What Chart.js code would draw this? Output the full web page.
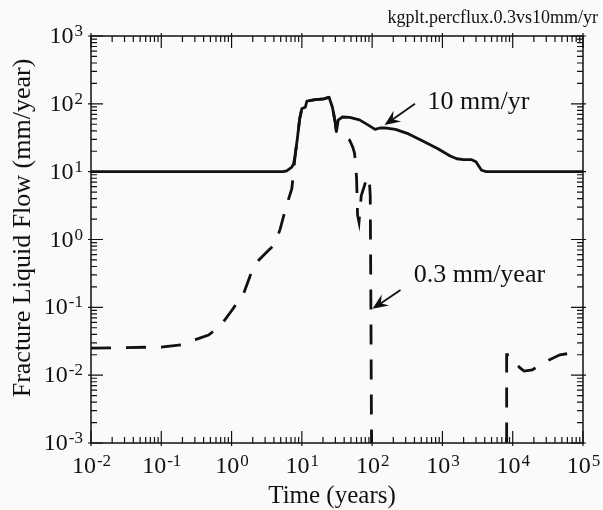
<!DOCTYPE html>
<html>
<head>
<meta charset="utf-8">
<script src="https://cdn.jsdelivr.net/npm/chart.js@4.4.0/dist/chart.umd.min.js"></script>
<style>
  html, body { margin: 0; padding: 0; background: #fafafa; }
  #wrap { width: 603px; height: 510px; }
</style>
</head>
<body>
<div id="wrap"><canvas id="flowChart" width="603" height="510"></canvas></div>
<script>
// ------------------
// data
// ------------------
const highX = [0.01, 1, 5.4, 6.1, 7.2, 7.6, 8.0, 8.7, 9.3, 10, 11.2, 11.8, 15.6, 20.5, 24.4, 27.2, 29.8, 31,
  33, 38, 48, 66, 87, 110, 129, 160, 215, 330, 500, 850, 1290, 1600, 2000, 2600, 3000, 3300, 3600, 4200, 100000];
const highY = [10, 10, 10, 10.3, 11.7, 12.9, 17, 33, 60, 85, 89, 110, 115, 118, 125, 89, 54, 39,
  58, 64, 63, 58, 49, 42, 44, 44, 42, 36, 29, 22, 17, 15.5, 15, 15, 14, 12, 10.5, 10, 10];

const lowX = [0.01, 0.1, 0.19, 0.32, 0.47, 0.69, 1.0, 1.48, 1.9, 2.45, 3.2, 4.07, 4.9, 5.95, 7.2, 7.7,
  8.0, 8.7, 9.3, 10, 11.2, 11.8, 15.6, 20.5, 24.4, 27.2, 29.8, 31,
  35, 42, 48, 53, 56, 58, 60, 61, 62, 65, 70, 83, 88, 91, 94, 96, 98, 99,
  8200, 8200, 9200, 12500, 14500, 19000, 30000, 47000, 80000, 100000];
const lowY = [0.025, 0.026, 0.028, 0.034, 0.039, 0.053, 0.089, 0.158, 0.32, 0.5, 0.66, 0.84, 1.41, 3.0, 5.6, 11,
  17, 33, 60, 85, 89, 110, 115, 118, 125, 89, 54, 39,
  35, 32, 29, 23, 19, 14, 8, 4.4, 2.3, 1.8, 4.4, 7.8, 8.5, 8, 4.4, 0.1, 0.001, 0.00001,
  0.00001, 0.02, 0.02, 0.013, 0.0115, 0.012, 0.016, 0.02, 0.0216, 0.022];

const xDecades = [-2, -1, 0, 1, 2, 3, 4, 5];
const yDecades = [-3, -2, -1, 0, 1, 2, 3];

// curve labels, placed in data coordinates
const notes = [
  { text: "10 mm/yr", at: [615, 85], tail: [407, 100], tip: [150, 48.7] },
  { text: "0.3 mm/year", at: [390, 0.24], tail: [253, 0.18], tip: [101, 0.095] }
];

const SERIF = "'Liberation Serif', 'Times New Roman', serif";
const INK = "#111";

function pairs(xs, ys) {
  return xs.map((x, i) => ({ x: x, y: ys[i] }));
}

// ------------------
// axes, ticks, labels
// ------------------
function powerLabel(ctx, exp, x, y, align) {
  const base = "10";
  const sup = exp < 0 ? "-" + Math.abs(exp) : String(exp);
  ctx.font = "24px " + SERIF;
  const wb = ctx.measureText(base).width;
  ctx.font = "17px " + SERIF;
  const ws = ctx.measureText(sup).width;
  let left = align === "right" ? x - wb - ws : x - (wb + ws) / 2;
  ctx.textAlign = "left";
  ctx.textBaseline = "alphabetic";
  ctx.font = "24px " + SERIF;
  ctx.fillText(base, left, y);
  ctx.font = "17px " + SERIF;
  ctx.fillText(sup, left + wb + 1, y - 7);
}

const frame = {
  id: "frame",
  afterDatasetsDraw(chart) {
    const ctx = chart.ctx;
    const a = chart.chartArea;
    const xs = chart.scales.x;
    const ys = chart.scales.y;
    ctx.save();
    ctx.strokeStyle = INK;
    ctx.fillStyle = INK;
    ctx.lineWidth = 1.5;
    ctx.strokeRect(a.left, a.top, a.right - a.left, a.bottom - a.top);

    ctx.lineWidth = 1.2;
    ctx.beginPath();
    xDecades.forEach(k => {
      for (let j = 1; j <= 9; j++) {
        if (k === 5 && j > 1) break;
        const px = xs.getPixelForValue(j * Math.pow(10, k));
        const len = j === 1 ? 12 : 6;
        const out = j === 1 ? 3 : 0;
        ctx.moveTo(px, a.bottom + out); ctx.lineTo(px, a.bottom - len);
        ctx.moveTo(px, a.top - out); ctx.lineTo(px, a.top + len);
      }
    });
    yDecades.forEach(k => {
      for (let j = 1; j <= 9; j++) {
        if (k === 3 && j > 1) break;
        const py = ys.getPixelForValue(j * Math.pow(10, k));
        const len = j === 1 ? 12 : 6;
        const out = j === 1 ? 3 : 0;
        ctx.moveTo(a.left - out, py); ctx.lineTo(a.left + len, py);
        ctx.moveTo(a.right + out, py); ctx.lineTo(a.right - len, py);
      }
    });
    ctx.stroke();

    xDecades.forEach(k => {
      powerLabel(ctx, k, xs.getPixelForValue(Math.pow(10, k)), a.bottom + 30, "center");
    });
    yDecades.forEach(k => {
      powerLabel(ctx, k, a.left - 9, ys.getPixelForValue(Math.pow(10, k)) + 7, "right");
    });

    // axis titles
    ctx.font = "25px " + SERIF;
    ctx.textAlign = "center";
    ctx.textBaseline = "alphabetic";
    ctx.fillText("Time (years)", 332, 503);
    ctx.save();
    ctx.translate(30, 228);
    ctx.rotate(-Math.PI / 2);
    ctx.font = "26px " + SERIF;
    ctx.fillText("Fracture Liquid Flow (mm/year)", 0, 0);
    ctx.restore();

    // file tag
    ctx.font = "18px " + SERIF;
    ctx.textAlign = "right";
    ctx.fillText("kgplt.percflux.0.3vs10mm/yr", 598, 23);

    // curve labels with arrows
    notes.forEach(n => {
      const tx = xs.getPixelForValue(n.at[0]), ty = ys.getPixelForValue(n.at[1]);
      ctx.font = "26px " + SERIF;
      ctx.textAlign = "left";
      ctx.fillText(n.text, tx, ty);
      const x0 = xs.getPixelForValue(n.tail[0]), y0 = ys.getPixelForValue(n.tail[1]);
      const x1 = xs.getPixelForValue(n.tip[0]), y1 = ys.getPixelForValue(n.tip[1]);
      const ang = Math.atan2(y0 - y1, x0 - x1);
      ctx.lineWidth = 1.8;
      ctx.beginPath();
      ctx.moveTo(x0, y0);
      ctx.lineTo(x1 + 8 * Math.cos(ang), y1 + 8 * Math.sin(ang));
      ctx.stroke();
      const hl = 17, hw = 0.4;
      ctx.beginPath();
      ctx.moveTo(x1, y1);
      ctx.lineTo(x1 + hl * Math.cos(ang - hw), y1 + hl * Math.sin(ang - hw));
      ctx.lineTo(x1 + 10 * Math.cos(ang), y1 + 10 * Math.sin(ang));
      ctx.lineTo(x1 + hl * Math.cos(ang + hw), y1 + hl * Math.sin(ang + hw));
      ctx.closePath();
      ctx.fill();
    });
    ctx.restore();
  }
};

// ------------------
// chart setup
// ------------------
let chart;

function createChart() {
  const ctx = document.getElementById("flowChart");
  chart = new Chart(ctx, {
    type: "line",
    data: {
      datasets: [{
        label: "10 mm/yr",
        data: pairs(highX, highY),
        borderColor: INK,
        borderWidth: 2.8,
        pointRadius: 0,
        tension: 0,
        borderJoinStyle: "round"
      }, {
        label: "0.3 mm/year",
        data: pairs(lowX, lowY),
        borderColor: INK,
        borderWidth: 2.8,
        borderDash: [20, 15],
        pointRadius: 0,
        tension: 0
      }]
    },
    options: {
      responsive: false,
      animation: false,
      layout: { padding: { left: 91, right: 20, top: 36, bottom: 67 } },
      plugins: { legend: { display: false }, tooltip: { enabled: false } },
      scales: {
        x: {
          type: "logarithmic", min: 0.01, max: 100000,
          ticks: { display: false }, grid: { display: false, drawTicks: false },
          border: { display: false }
        },
        y: {
          type: "logarithmic", min: 0.001, max: 1000,
          ticks: { display: false }, grid: { display: false, drawTicks: false },
          border: { display: false }
        }
      }
    },
    plugins: [frame]
  });
}

window.onload = () => {
  createChart();
};
</script>
</body>
</html>
